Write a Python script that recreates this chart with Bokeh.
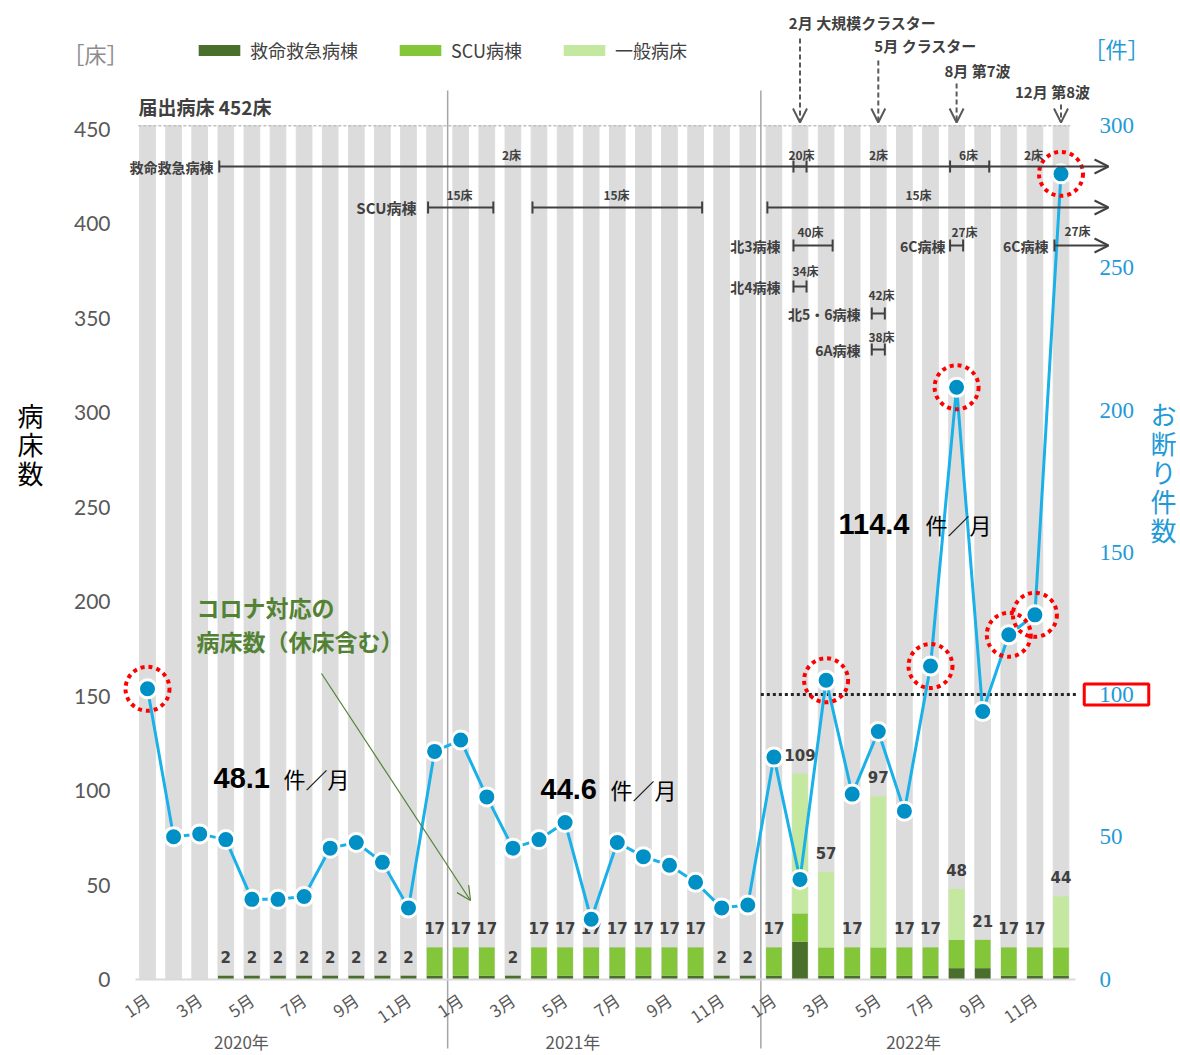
from bokeh.plotting import figure
from bokeh.models import (Range1d, LinearAxis, FixedTicker, Label, Arrow, OpenHead,
                          TeeHead, Legend, LegendItem, ColumnDataSource)
from bokeh.embed import file_html
from bokeh.resources import INLINE
from bokeh.core.properties import value

# ---------------- data ----------------
months = list(range(36))  # 2020-01 .. 2022-12
month_tick_labels = {i: f"{(i % 12) + 1}月" for i in range(0, 36, 2)}
year_labels = ["2020年", "2021年", "2022年"]
year_label_pos = [3.6, 16.3, 29.35]

emergency = [0, 0, 0, 2, 2, 2, 2, 2, 2, 2, 2, 2,
             2, 2, 2, 2, 2, 2, 2, 2, 2, 2, 2, 2,
             2, 20, 2, 2, 2, 2, 2, 6, 6, 2, 2, 2]
scu = [0, 0, 0, 0, 0, 0, 0, 0, 0, 0, 0, 15,
       15, 15, 0, 15, 15, 15, 15, 15, 15, 15, 0, 0,
       15, 15, 15, 15, 15, 15, 15, 15, 15, 15, 15, 15]
general = [0] * 24 + [0, 74, 40, 0, 80, 0, 0, 27, 0, 0, 0, 27]
refusals = [102, 50, 51, 49, 28, 28, 29, 46, 48, 41, 25, 80,
            84, 64, 46, 49, 55, 21, 48, 43, 40, 34, 25, 26,
            78, 35, 105, 65, 87, 59, 110, 208, 94, 121, 128, 283]
notified_beds = 452
threshold = 100
averages = ["48.1", "44.6", "114.4"]

# ---------------- helpers (layout: picture px -> data units) ----------------
W, H = 1180, 1055
X0, DX = 147.0, 26.1          # px of month 0, px per month
Y0, DY = 979.0, 1.889         # px of 0 beds, px per bed
RY0, RDY = 978.5, 2.845       # px of 0 refusals, px per refusal
def ix(px): return (px - X0) / DX
def iy(py): return (Y0 - py) / DY
def iry(py): return (RY0 - py) / RDY

FONT = "Noto Sans CJK JP"
DARK = "#404040"
BLUE_T = "#1f9ad6"

p = figure(width=W, height=H, output_backend="svg", toolbar_location=None,
           x_range=Range1d(ix(0), ix(W)), y_range=Range1d(iy(H), iy(0)),
           min_border_left=0, min_border_right=0, min_border_top=0,
           min_border_bottom=0, background_fill_color="white",
           border_fill_color="white", outline_line_color=None)
p.extra_y_ranges = {"right": Range1d(iry(H), iry(0))}
p.xaxis.visible = False
p.yaxis.visible = False
p.xgrid.visible = False
p.ygrid.visible = False

# left axis
ly = LinearAxis(ticker=FixedTicker(ticks=list(range(0, 451, 50))), fixed_location=ix(135))
ly.axis_line_color = None
ly.major_tick_line_color = None
ly.minor_tick_line_color = None
ly.major_label_text_font = "Lato"
ly.major_label_text_font_size = "21px"
ly.major_label_text_color = "#595959"
ly.major_label_standoff = 19
p.add_layout(ly, "left")

# right axis
ry = LinearAxis(y_range_name="right", ticker=FixedTicker(ticks=list(range(0, 301, 50))),
                fixed_location=ix(1085))
ry.axis_line_color = None
ry.major_tick_line_color = None
ry.minor_tick_line_color = None
ry.major_label_text_font = "Liberation Serif"
ry.major_label_text_font_size = "23px"
ry.major_label_text_color = BLUE_T
ry.major_label_standoff = 8
ry.major_label_overrides = {threshold: ""}
p.add_layout(ry, "right")

# bottom month axis
bx = LinearAxis(ticker=FixedTicker(ticks=list(month_tick_labels.keys())), fixed_location=0,
                bounds=(ix(135), ix(1075)))
bx.major_label_overrides = month_tick_labels
bx.axis_line_color = "#d9d9d9"
bx.axis_line_width = 2
bx.major_tick_line_color = None
bx.minor_tick_line_color = None
bx.major_label_orientation = 0.6
bx.major_label_text_font = FONT
bx.major_label_text_font_size = "17px"
bx.major_label_text_color = "#595959"
bx.major_label_standoff = 12
p.add_layout(bx, "below")

# year axis
yx = LinearAxis(ticker=FixedTicker(ticks=year_label_pos), fixed_location=0)
yx.major_label_overrides = {k: v for k, v in zip(year_label_pos, year_labels)}
yx.axis_line_color = None
yx.major_tick_line_color = None
yx.minor_tick_line_color = None
yx.major_label_text_font = FONT
yx.major_label_text_font_size = "17px"
yx.major_label_text_color = "#595959"
yx.major_label_standoff = 43
p.add_layout(yx, "below")

# ---------------- bars ----------------
src = ColumnDataSource(dict(x=months, emergency=emergency, scu=scu, general=general,
                            full=[notified_beds] * 36,
                            total=[a + b + c for a, b, c in zip(emergency, scu, general)]))
p.vbar(x="x", top="full", width=0.6, source=src, color="#dcdcdc")
stack = p.vbar_stack(["emergency", "scu", "general"], x="x", width=0.6, source=src,
                     color=["#4a6f2c", "#84c63a", "#c5e8a0"], line_color=None)

tot = src.data["total"]
lab_src = ColumnDataSource(dict(
    x=[m for m, t in zip(months, tot) if t > 0],
    y=[t for t in tot if t > 0],
    t=[str(t) for t in tot if t > 0]))
p.text(x="x", y="y", text="t", source=lab_src, text_align="center",
       text_baseline="middle", y_offset=-19, text_font=value("DejaVu Sans"),
       text_font_style="bold", text_font_size="15px", text_color=DARK)

# notified beds line
p.line([-0.35, 35.35], [notified_beds, notified_beds], line_color="#bfbfbf",
       line_dash="3 2", line_width=1.5)
p.add_layout(Label(x=ix(138), y=notified_beds, y_offset=6, text=f"届出病床 {notified_beds}床",
                   text_font=FONT, text_font_style="bold", text_font_size="19px",
                   text_color=DARK, text_baseline="bottom"))

# separators between years
for xs in (11.5, 23.5):
    p.segment(x0=xs, y0=iy(1048), x1=xs, y1=iy(90), line_color="#a6a6a6", line_width=1.5)

# threshold dotted line (right axis)
p.line([23.5, ix(1078)], [threshold, threshold], y_range_name="right",
       line_color="#262626", line_dash="3 3", line_width=3)
p.add_layout(Label(x=ix(1116), y=threshold, y_range_name="right", text=str(threshold),
                   text_font="Liberation Serif", text_font_size="23px",
                   text_color=BLUE_T, text_align="center", text_baseline="middle",
                   border_line_color="#ff0000", border_line_width=3,
                   padding=dict(left=15, right=15, top=3, bottom=3)))

# ---------------- refusals line ----------------
p.line(months, refusals, y_range_name="right", line_color="#1ab0e8", line_width=3)
p.scatter(months, refusals, y_range_name="right", size=18, fill_color="#0090c6",
          line_color="white", line_width=3)
hi = [(m, r) for m, r in zip(months, refusals) if r > threshold]
p.scatter([m for m, _ in hi], [r for _, r in hi], y_range_name="right", size=44,
          fill_color=None, line_color="#ff0000", line_width=4, line_dash="4 4")

# averages
avg_pos = [(213, 777, 283), (540, 788, 610), (838, 523, 925)]
for txt, (x1, yy, x2) in zip(averages, avg_pos):
    p.add_layout(Label(x=ix(x1), y=iy(yy), text=txt, text_font="Liberation Sans",
                       text_font_style="bold", text_font_size="29px", text_color="black",
                       text_baseline="middle"))
    p.add_layout(Label(x=ix(x2), y=iy(yy), text="件／月", text_font=FONT,
                       text_font_size="22px", text_color="black", text_baseline="middle"))

# green annotation
GREEN = "#548235"
for t, yy in (("コロナ対応の", 606), ("病床数（休床含む）", 640)):
    p.add_layout(Label(x=ix(196), y=iy(yy), text=t, text_font=FONT, text_font_style="bold",
                       text_font_size="23px", text_color=GREEN, text_baseline="middle"))
p.add_layout(Arrow(end=OpenHead(size=14, line_color=GREEN, line_width=1.2),
                   x_start=ix(321), y_start=iy(673), x_end=ix(470), y_end=iy(900),
                   line_color=GREEN, line_width=1.2))

# ---------------- ward brackets ----------------
def bracket(x0, x1, y, arrow=False, lw=2):
    end = OpenHead(size=14, line_color=DARK, line_width=2) if arrow else \
        TeeHead(size=12, line_color=DARK, line_width=lw)
    p.add_layout(Arrow(start=TeeHead(size=12, line_color=DARK, line_width=lw), end=end,
                       x_start=x0, y_start=y, x_end=x1, y_end=y,
                       line_color=DARK, line_width=lw))

def small(x, y, t, size="12px", align="center"):
    p.add_layout(Label(x=x, y=y, text=t, text_font=FONT, text_font_style="bold",
                       text_font_size=size, text_color=DARK, text_align=align,
                       text_baseline="middle"))

XE = ix(1108)
r1 = iy(166)
small(ix(213), r1, "救命救急病棟", "14px", "right")
bracket(2.75, XE, r1, arrow=True)
bracket(24.75, 25.25, r1)
bracket(30.75, 32.25, r1)
for xx, t in ((ix(511), "2床"), (ix(801), "20床"), (ix(878), "2床"), (ix(968), "6床"), (ix(1033), "2床")):
    small(xx, iy(154), t)

r2 = iy(207)
small(ix(416), r2, "SCU病棟", "15px", "right")
bracket(10.75, 13.25, r2)
bracket(14.75, 21.25, r2)
bracket(23.75, XE, r2, arrow=True)
for xx in (ix(459), ix(616), ix(918)):
    small(xx, iy(194), "15床")

r3 = iy(245)
small(ix(780), r3, "北3病棟", "14px", "right")
bracket(24.75, 26.25, r3)
small(ix(810), iy(231), "40床")
small(ix(945), r3, "6C病棟", "14px", "right")
bracket(30.75, 31.25, r3)
small(ix(964), iy(231), "27床")
small(ix(1048), r3, "6C病棟", "14px", "right")
bracket(34.75, XE, r3, arrow=True)
small(ix(1077), iy(230), "27床")

r4 = iy(286)
small(ix(780), r4, "北4病棟", "14px", "right")
bracket(24.75, 25.25, r4)
small(ix(805), iy(270), "34床")

r5 = iy(313)
small(ix(860), r5, "北5・6病棟", "14px", "right")
bracket(27.75, 28.25, r5)
small(ix(881), iy(294), "42床")

r6 = iy(349)
small(ix(860), r6, "6A病棟", "14px", "right")
bracket(27.75, 28.25, r6)
small(ix(881), iy(336), "38床")

# ---------------- event arrows ----------------
events = [("2月 大規模クラスター", 25, 862, 22, 38),
          ("5月 クラスター", 28, 925, 45, 60),
          ("8月 第7波", 31, 977, 70, 83),
          ("12月 第8波", 35, 1052, 91, 104)]
for t, m, tx, ty, ay in events:
    small(ix(tx), iy(ty), t, "15px")
    p.add_layout(Arrow(end=OpenHead(size=14, line_color="#595959", line_width=2),
                       x_start=m, y_start=iy(ay), x_end=m, y_end=iy(122),
                       line_color="#595959", line_width=2, line_dash="5 3"))

# ---------------- units / titles ----------------
p.add_layout(Label(x=ix(95), y=iy(52), text="［床］", text_font=FONT, text_font_size="22px",
                   text_color="#8c8c8c", text_align="center", text_baseline="middle"))
p.add_layout(Label(x=ix(1116), y=iy(47), text="［件］", text_font=FONT, text_font_size="22px",
                   text_color=BLUE_T, text_align="center", text_baseline="middle"))
for k, ch in enumerate("病床数"):
    p.add_layout(Label(x=ix(30), y=iy(414 + 29 * k), text=ch, text_font=FONT,
                       text_font_size="26px", text_color="black", text_align="center",
                       text_baseline="middle"))
for k, ch in enumerate("お断り件数"):
    p.add_layout(Label(x=ix(1163), y=iy(413 + 29 * k), text=ch, text_font=FONT,
                       text_font_size="26px", text_color=BLUE_T, text_align="center",
                       text_baseline="middle"))

# ---------------- legend ----------------
legend = Legend(items=[LegendItem(label="救命救急病棟", renderers=[stack[0]]),
                       LegendItem(label="SCU病棟", renderers=[stack[1]]),
                       LegendItem(label="一般病床", renderers=[stack[2]])],
                orientation="horizontal", location=(193, H - 63), glyph_width=52,
                glyph_height=14, label_height=20, label_standoff=5, spacing=36,
                padding=0, margin=0, border_line_color=None, background_fill_alpha=0,
                label_text_font=FONT, label_text_font_size="18px", label_text_color=DARK)
p.add_layout(legend)

open("out.html", "w").write(file_html(p, INLINE))
